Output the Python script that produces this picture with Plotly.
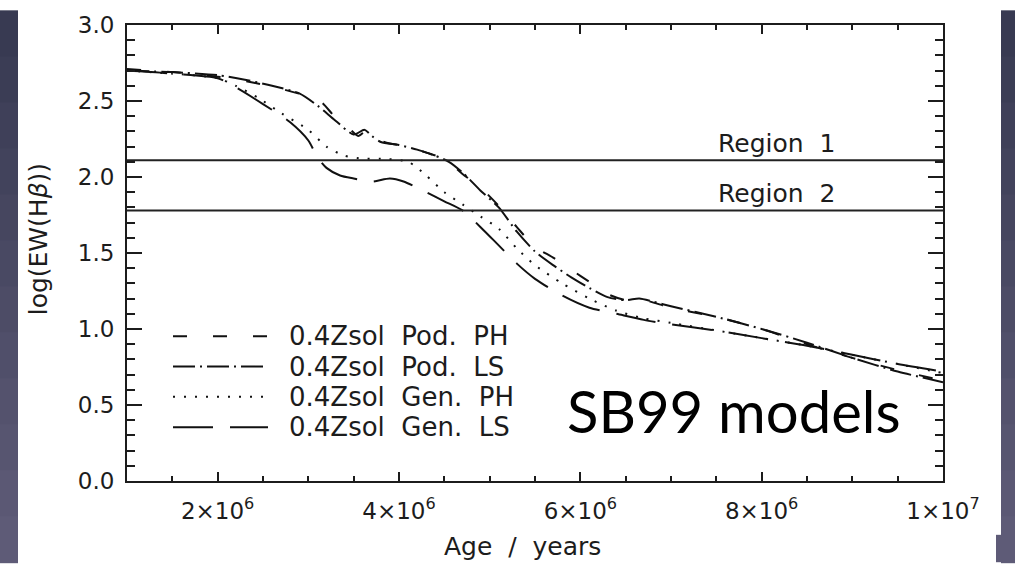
import plotly.graph_objects as go

# ---- model tracks: log EW(Hbeta) vs. age (years) ----
pod_ph_age = [1.0e6, 1.5e6, 2.0e6, 2.4e6, 2.7e6, 3.0e6, 3.15e6, 3.3e6, 3.45e6, 3.55e6, 3.65e6,
              3.75e6, 3.9e6, 4.1e6, 4.3e6, 4.5e6, 4.7e6, 4.9e6, 5.1e6, 5.3e6, 5.5e6, 5.7e6,
              5.9e6, 6.1e6, 6.3e6, 6.5e6, 6.7e6, 7.0e6, 7.5e6, 8.0e6, 8.5e6, 9.0e6, 9.5e6, 1.0e7]
pod_ph_ew = [2.71, 2.69, 2.66, 2.62, 2.58, 2.53, 2.49, 2.39, 2.32, 2.27, 2.31,
             2.25, 2.22, 2.20, 2.16, 2.12, 2.02, 1.93, 1.81, 1.67, 1.54, 1.47,
             1.39, 1.31, 1.23, 1.19, 1.19, 1.14, 1.08, 1.00, 0.90, 0.81, 0.73, 0.66]

pod_ls_age = [1.0e6, 1.5e6, 2.0e6, 2.3e6, 2.6e6, 2.9e6, 3.1e6, 3.3e6, 3.5e6, 3.62e6, 3.7e6,
              3.8e6, 4.0e6, 4.2e6, 4.4e6, 4.55e6, 4.7e6, 4.9e6, 5.1e6, 5.3e6, 5.5e6, 5.7e6,
              5.9e6, 6.1e6, 6.3e6, 6.5e6, 6.65e6, 6.8e6, 7.0e6, 7.5e6, 8.0e6, 8.5e6, 9.0e6,
              9.5e6, 1.0e7]
pod_ls_ew = [2.70, 2.69, 2.67, 2.64, 2.60, 2.55, 2.47, 2.37, 2.28, 2.31, 2.27,
             2.23, 2.21, 2.18, 2.14, 2.10, 2.03, 1.91, 1.80, 1.64, 1.51, 1.42,
             1.34, 1.27, 1.21, 1.19, 1.20, 1.18, 1.15, 1.08, 1.00, 0.91, 0.81,
             0.72, 0.65]

gen_ph_age = [1.0e6, 1.5e6, 2.0e6, 2.2e6, 2.45e6, 2.7e6, 3.0e6, 3.2e6, 3.4e6, 3.6e6, 3.8e6,
              4.1e6, 4.3e6, 4.5e6, 4.7e6, 4.9e6, 5.1e6, 5.3e6, 5.5e6, 5.8e6, 6.1e6, 6.4e6,
              6.7e6, 7.0e6, 7.5e6, 8.0e6, 8.5e6, 9.0e6, 9.5e6, 1.0e7]
gen_ph_ew = [2.70, 2.68, 2.65, 2.60, 2.52, 2.42, 2.31, 2.20, 2.14, 2.12, 2.12,
             2.10, 2.01, 1.90, 1.82, 1.74, 1.66, 1.53, 1.42, 1.30, 1.20, 1.12,
             1.07, 1.04, 0.99, 0.94, 0.89, 0.83, 0.77, 0.71]

gen_ls_age = [1.0e6, 1.5e6, 2.0e6, 2.2e6, 2.5e6, 2.8e6, 3.0e6, 3.1e6, 3.2e6, 3.35e6, 3.5e6,
              3.7e6, 3.9e6, 4.05e6, 4.3e6, 4.5e6, 4.7e6, 4.9e6, 5.1e6, 5.3e6, 5.5e6, 5.8e6,
              6.1e6, 6.4e6, 6.7e6, 7.0e6, 7.5e6, 8.0e6, 8.5e6, 9.0e6, 9.5e6, 1.0e7]
gen_ls_ew = [2.70, 2.68, 2.65, 2.59, 2.48, 2.36, 2.24, 2.13, 2.06, 2.01, 1.99,
             1.97, 1.99, 1.97, 1.90, 1.84, 1.78, 1.67, 1.55, 1.43, 1.33, 1.22,
             1.14, 1.10, 1.06, 1.03, 0.99, 0.94, 0.89, 0.83, 0.77, 0.72]

series_names = ["0.4Zsol  Pod.  PH", "0.4Zsol  Pod.  LS",
                "0.4Zsol  Gen.  PH", "0.4Zsol  Gen.  LS"]

# selection thresholds in log EW(Hbeta)
region_levels = [2.11, 1.78]
region_labels = ["Region  1", "Region  2"]

x_range = [1.0e6, 1.0e7]
y_range = [0.0, 3.0]
x_tickvals = [2e6, 4e6, 6e6, 8e6, 1e7]
x_ticktext = ["2×10<sup>6</sup>", "4×10<sup>6</sup>", "6×10<sup>6</sup>",
              "8×10<sup>6</sup>", "1×10<sup>7</sup>"]

# ---- page geometry ----
W, H = 1015, 564
ML, MR, MT, MB = 127, 72, 15, 83
PW, PH_ = W - ML - MR, H - MT - MB


def px_x(p):
    return (p - ML) / PW


def px_y(p):
    return (H - MB - p) / PH_


INK = "#1c1c1c"
FONT = "DejaVu Sans"
NBSP = "\u00a0"

fig = go.Figure()

# IDL-like line styles: dashed, dash-dot, dotted, long dashes
dashes = ["14px,26px", "22px,5px,2px,5px", "2px,9px", "40px,17px"]
tracks = [(pod_ph_age, pod_ph_ew), (pod_ls_age, pod_ls_ew),
          (gen_ph_age, gen_ph_ew), (gen_ls_age, gen_ls_ew)]

for (age, ew), name, dash in zip(tracks, series_names, dashes):
    fig.add_trace(go.Scatter(
        x=age, y=ew, mode="lines", name=name, showlegend=False,
        line=dict(color="#111111", width=2, dash=dash,
                  shape="spline", smoothing=0.7),
    ))

# horizontal region boundaries
for lev, lab in zip(region_levels, region_labels):
    fig.add_trace(go.Scatter(
        x=x_range, y=[lev, lev], mode="lines", showlegend=False,
        line=dict(color="#222222", width=2), hoverinfo="skip",
    ))
    fig.add_annotation(
        x=px_x(716), xref="paper", xanchor="left",
        y=lev, yref="y", yanchor="bottom", yshift=0,
        text=lab.replace(" ", NBSP), showarrow=False,
        font=dict(family=FONT, size=25, color=INK),
    )

# invisible trace so the top/right tick axes get drawn
fig.add_trace(go.Scatter(
    x=x_range, y=y_range, xaxis="x2", yaxis="y2", mode="markers",
    marker=dict(opacity=0), showlegend=False, hoverinfo="skip",
))

shapes = []

# hand-placed legend: line-style sample + label per series
for i, (name, dash) in enumerate(zip(series_names, dashes)):
    yrow = px_y(333 + 31 * i)
    shapes.append(dict(type="line", xref="paper", yref="paper",
                       x0=px_x(173), x1=px_x(268), y0=yrow, y1=yrow,
                       line=dict(color="#111111", width=2, dash=dash)))
    fig.add_annotation(
        x=px_x(287), y=yrow, xref="paper", yref="paper",
        xanchor="left", yanchor="middle",
        text=name.replace(" ", NBSP), showarrow=False,
        font=dict(family=FONT, size=26, color=INK),
    )

# axis titles
fig.add_annotation(
    x=px_x(522), y=px_y(548), xref="paper", yref="paper",
    xanchor="center", yanchor="middle",
    text="Age" + NBSP * 2 + "/" + NBSP * 2 + "years", showarrow=False,
    font=dict(family=FONT, size=25, color=INK),
)
fig.add_annotation(
    x=px_x(38), y=px_y(234), xref="paper", yref="paper",
    xanchor="center", yanchor="middle",
    text="log(EW(H<i>β</i>))", textangle=-90, showarrow=False,
    font=dict(family=FONT, size=25, color=INK),
)

# slide caption
fig.add_annotation(
    x=px_x(565), y=px_y(446), xref="paper", yref="paper",
    xanchor="left", yanchor="bottom",
    text="SB99 models", showarrow=False,
    font=dict(family="Lato", size=58, color="#000000"),
)

# dark slide background strips on both sides of the white panel
n_band = 12
top_rgb = (0x36, 0x38, 0x50)
bot_rgb = (0x60, 0x5d, 0x79)
for i in range(n_band):
    f = (i + 0.5) / n_band
    c = tuple(round(a + (b - a) * f) for a, b in zip(top_rgb, bot_rgb))
    col = "rgb(%d,%d,%d)" % c
    y0 = H * i / n_band
    y1 = H * (i + 1) / n_band + 1
    for xa, xb in [(0, 18), (1001, W)]:
        shapes.append(dict(type="rect", xref="paper", yref="paper",
                           x0=px_x(xa), x1=px_x(xb), y0=px_y(y1), y1=px_y(y0),
                           fillcolor=col, line=dict(width=0), layer="below"))
shapes.append(dict(type="rect", xref="paper", yref="paper",
                   x0=px_x(996), x1=px_x(1002), y0=px_y(H), y1=px_y(536),
                   fillcolor="rgb(94,91,119)", line=dict(width=0), layer="below"))

tickfont = dict(family=FONT, size=23, color=INK)
x_minor = dict(dtick=5e5, ticks="inside", ticklen=5, tickwidth=2, tickcolor=INK)
y_minor = dict(dtick=0.1, ticks="inside", ticklen=8, tickwidth=2, tickcolor=INK)

fig.update_layout(
    width=W, height=H,
    margin=dict(l=ML, r=MR, t=MT, b=MB, pad=0),
    paper_bgcolor="white", plot_bgcolor="rgba(0,0,0,0)",
    shapes=shapes,
    showlegend=False,
    xaxis=dict(
        range=x_range, tickvals=x_tickvals, ticktext=x_ticktext,
        ticks="inside", ticklen=9, tickwidth=2, tickcolor=INK, minor=x_minor,
        showline=True, linewidth=2, linecolor=INK, mirror=True,
        showgrid=False, zeroline=False, ticklabelstandoff=8,
        tickfont=tickfont,
    ),
    yaxis=dict(
        range=y_range, dtick=0.5, tickformat=".1f",
        ticks="inside", ticklen=15, tickwidth=2, tickcolor=INK, minor=y_minor,
        showline=True, linewidth=2, linecolor=INK, mirror=True,
        showgrid=False, zeroline=False, ticklabelstandoff=6,
        tickfont=tickfont,
    ),
    # top and right axes carry the mirrored major and minor ticks
    xaxis2=dict(
        overlaying="x", side="top", anchor="y", range=x_range,
        tickvals=x_tickvals, showticklabels=False,
        ticks="inside", ticklen=9, tickwidth=2, tickcolor=INK, minor=x_minor,
        showline=False, showgrid=False, zeroline=False,
    ),
    yaxis2=dict(
        overlaying="y", side="right", anchor="x", range=y_range,
        dtick=0.5, showticklabels=False,
        ticks="inside", ticklen=15, tickwidth=2, tickcolor=INK, minor=y_minor,
        showline=False, showgrid=False, zeroline=False,
    ),
)

fig.write_html("out.html")
